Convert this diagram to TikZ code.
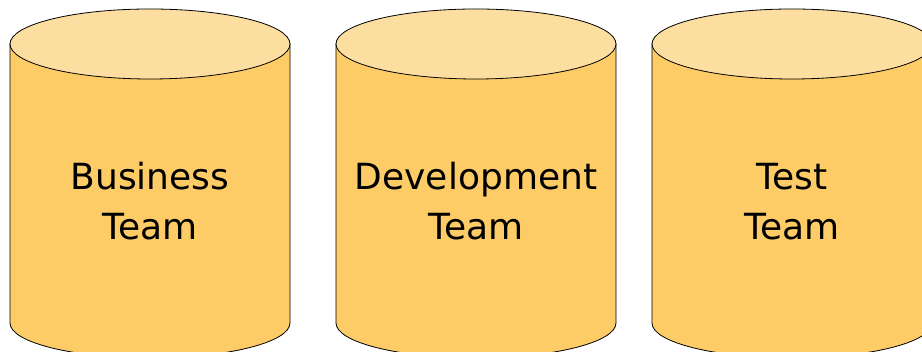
\documentclass[tikz,border=0pt]{standalone}
\usepackage{fontspec}
\setmainfont{DejaVu Sans}
\usetikzlibrary{positioning}
\definecolor{lidcol}{RGB}{252,223,160}
\definecolor{bodycol}{RGB}{254,204,102}
\tikzstyle{sidebox}=[fill=bodycol, draw=black, line width=0.8pt]
\tikzstyle{topbox}=[fill=lidcol, draw=black, line width=0.8pt]
\tikzstyle{teamtext}=[align=center, inner sep=0pt, font=\fontsize{36}{50}\selectfont]
\newcommand\teamcyl[3]{
            \coordinate (#1) at (#2,308);
            \filldraw[sidebox] ([xshift=-140pt]#1) -- ++(0,-279) arc (180:360:140pt and 35pt) -- ++(0,279) -- cycle;
            \filldraw[topbox] (#1) ellipse (140pt and 35pt);
            \node ({#1}t) [teamtext] at ([yshift=-157.5pt]#1) {#3};
        }
\begin{document}
\begin{tikzpicture}[x=1pt, y=1pt]

    \clip (0,0) rectangle (922,352);

    \teamcyl{biz}{150}{Business\\Team};
    \teamcyl{dev}{476}{Development\\Team};
    \teamcyl{test}{792}{Test\\Team};

\end{tikzpicture}
\end{document}
